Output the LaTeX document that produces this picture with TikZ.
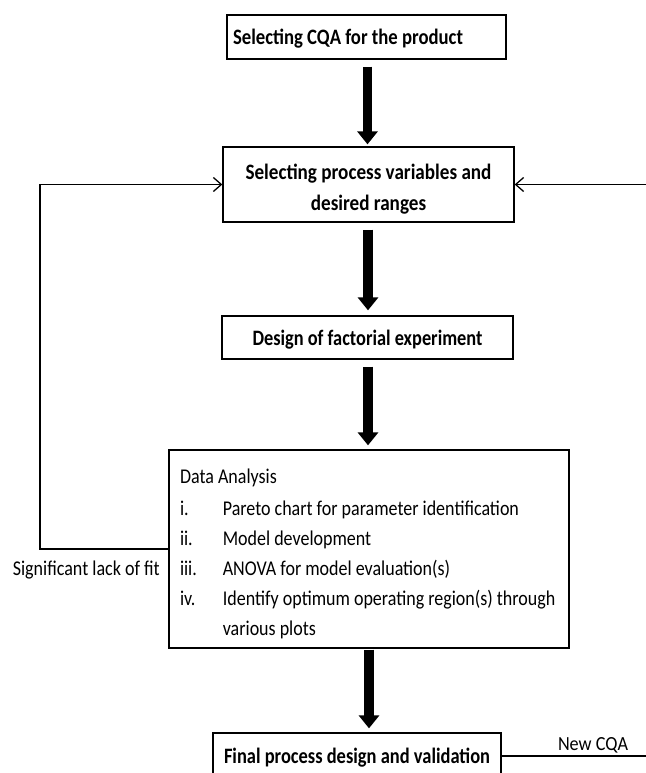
\documentclass[tikz,border=0pt]{standalone}
\usepackage{fontspec}
\setmainfont{Carlito}
\usetikzlibrary{arrows.meta}
\newcommand\fitw[2]{\resizebox{#1}{\height}{#2}}
\newcommand\hsx[2]{\scalebox{#1}[1]{#2}}
\newcommand\itm[1]{\makebox[50pt][l]{#1}}
\tikzset{
  box/.style={draw=black, line width=1.3pt, rectangle, inner ysep=0pt, font=\fontsize{22}{31}\selectfont},
  bigarrow/.style={line width=9.5pt, -{Triangle[width=20pt,length=13pt]}, shorten <=7pt, shorten >=2pt},
  thinarrow/.style={line width=1.3pt, -{Straight Barb[length=8pt,width=14pt,line width=1.3pt]}},
  lbl/.style={inner sep=0pt}
}
\begin{document}
\begin{tikzpicture}[x=1pt,y=-1pt]
\useasboundingbox (0,0) rectangle (645,773);
\fill[white] (0,0) rectangle (645,773);

\node[box, minimum width=279pt, minimum height=44pt, inner xsep=6pt, text height=16pt, text depth=0pt] (b1) at (366.5,37)
  {\makebox[267pt][l]{\fitw{230pt}{\bfseries Selecting CQA for the product}}};

\node[box, minimum width=291pt, minimum height=75pt, text height=0pt, text depth=11pt] (b2) at (368.5,184.5)
  {\fitw{246pt}{\bfseries\begin{tabular}[t]{@{}c@{}}Selecting process variables and\\desired ranges\end{tabular}}};

\node[box, minimum width=291pt, minimum height=43pt, text height=15pt, text depth=0pt] (b3) at (367.5,337.5)
  {\fitw{230pt}{\bfseries Design of factorial experiment}};

\node[box, minimum width=400pt, minimum height=198pt, inner xsep=11pt, text height=0pt, text depth=132pt,
      font=\fontsize{21}{30}\selectfont] (b4) at (369,549)
  {\makebox[378pt][l]{\hsx{0.857}{\begin{tabular}[t]{@{}l@{}}Data Analysis\\[2pt]
  \itm{i.}Pareto chart for parameter identification\\
  \itm{ii.}Model development\\
  \itm{iii.}ANOVA for model evaluation(s)\\
  \itm{iv.}Identify optimum operating region(s) through\\
  \itm{}various plots\end{tabular}}}};

\node[box, minimum width=288pt, minimum height=46pt, text height=14pt, text depth=0pt] (b5) at (357,756)
  {\fitw{266pt}{\bfseries Final process design and validation}};

\draw[bigarrow] (b1.south -| 367.5,0) -- (b2.north -| 367.5,0);
\draw[bigarrow, shorten >=5pt] (b2.south -| 368,0) -- (b3.north -| 368,0);
\draw[bigarrow, shorten >=4pt] (b3.south -| 368,0) -- (b4.north -| 368,0);
\draw[bigarrow, shorten <=1pt, shorten >=4pt] (b4.south -| 369,0) -- (b5.north -| 369,0);

\coordinate (lcorner) at (40,549);
\draw[thinarrow] (b4.west) -- (lcorner) |- (b2.west);
\node[lbl, anchor=base east, font=\fontsize{21}{24}\selectfont] (lof) at (160,575) {\fitw{147pt}{Significant lack of fit}};

\coordinate (rcorner) at (649,756);
\draw[thinarrow] (b5.east) -- (rcorner) |- (b2.east);
\node[lbl, anchor=base, font=\fontsize{20}{22}\selectfont] (ncqa) at (593,750) {\fitw{70pt}{New CQA}};
\end{tikzpicture}
\end{document}
